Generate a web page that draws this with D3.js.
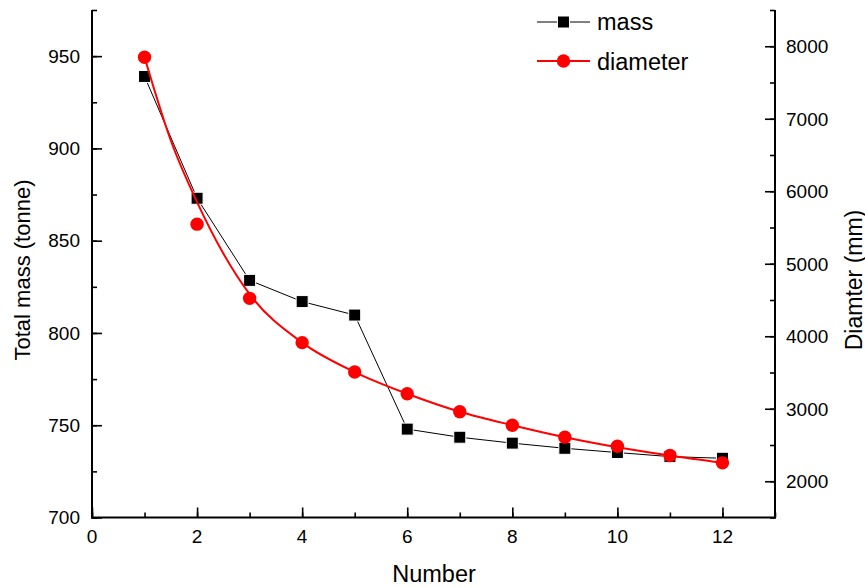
<!DOCTYPE html>
<html><head><meta charset="utf-8">
<script src="https://cdn.jsdelivr.net/npm/d3@7"></script>
<style>body{margin:0;background:#fff}svg{display:block}text{font-family:"Liberation Sans",Arial,sans-serif}</style>
</head><body><svg id="c" width="865" height="587"></svg>
<script>
const numbers = [1,2,3,4,5,6,7,8,9,10,11,12];
const mass = [939,873,828.5,817,809.7,747.9,743.5,740.3,737.5,735.2,733,732.1];
const diameter = [7848,5546,4523,3912,3506,3207,2959,2773,2608,2483,2355,2254];
const fitX = [1,1.5,2,2.5,3,4,5,6,7,8,9,10,11,12];
const fitY = [7848,6700,5850,5140,4580,3912,3506,3207,2959,2773,2608,2470,2355,2254];
const xTicks = [0,2,4,6,8,10,12];
const massTicks = [700,750,800,850,900,950];
const diaTicks = [2000,3000,4000,5000,6000,7000,8000];

const svg = d3.select("#c");
const L=92, R=775, T=10, B=517.5;
const x = d3.scaleLinear().domain([0,13]).range([L,R]);
const yL = d3.scaleLinear().domain([700,975]).range([B,T]);
const yR = d3.scaleLinear().domain([1500,8500]).range([B,T]);

function ticks(gen, tr, vals, size){
  const g = svg.append("g").attr("transform",tr);
  g.call(gen.tickValues(vals).tickSize(size).tickFormat(""));
  g.selectAll("path").remove();
  g.selectAll("text").remove();
  g.selectAll("line").attr("stroke","#000").attr("stroke-width",1.6);
  return g;
}
ticks(d3.axisTop(x), `translate(0,${B})`, d3.range(0,14,1), 5);
ticks(d3.axisRight(yL), `translate(${L},0)`, d3.range(700,976,25), 5);
ticks(d3.axisLeft(yR), `translate(${R},0)`, d3.range(1500,8501,500), 5);
ticks(d3.axisTop(x), `translate(0,${B})`, xTicks, 10);
ticks(d3.axisRight(yL), `translate(${L},0)`, massTicks, 10);
ticks(d3.axisLeft(yR), `translate(${R},0)`, diaTicks, 10);
// axis lines
svg.append("line").attr("x1",L).attr("x2",L).attr("y1",T).attr("y2",B+1).attr("stroke","#000").attr("stroke-width",2);
svg.append("line").attr("x1",R).attr("x2",R).attr("y1",T).attr("y2",B+1).attr("stroke","#000").attr("stroke-width",2);
svg.append("line").attr("x1",L-1).attr("x2",R+1).attr("y1",B).attr("y2",B).attr("stroke","#000").attr("stroke-width",2);
// labels
const fs = 19;
svg.selectAll(".xl").data(xTicks).enter().append("text").attr("x",d=>x(d)).attr("y",543).attr("text-anchor","middle").attr("font-size",fs).text(d=>d);
svg.selectAll(".yl").data(massTicks).enter().append("text").attr("x",80).attr("y",d=>yL(d)+6.8).attr("text-anchor","end").attr("font-size",fs).text(d=>d);
svg.selectAll(".yr").data(diaTicks).enter().append("text").attr("x",786).attr("y",d=>yR(d)+6.8).attr("text-anchor","start").attr("font-size",fs).text(d=>d);
svg.append("text").attr("x",434).attr("y",582).attr("text-anchor","middle").attr("font-size",23.5).text("Number");
svg.append("text").attr("transform","translate(30,270) rotate(-90)").attr("text-anchor","middle").attr("font-size",22).text("Total mass (tonne)");
svg.append("text").attr("transform","translate(861.5,280) rotate(-90)").attr("text-anchor","middle").attr("font-size",23).text("Diamter (mm)");

// mass series
svg.append("path").datum(numbers.map((n,i)=>[n,mass[i]]))
  .attr("d", d3.line().x(d=>x(d[0])).y(d=>yL(d[1])))
  .attr("fill","none").attr("stroke","#000").attr("stroke-width",1);
svg.selectAll(".sq").data(numbers.map((n,i)=>[n,mass[i]])).enter().append("rect")
  .attr("x",d=>x(d[0])-6).attr("y",d=>yL(d[1])-6).attr("width",12).attr("height",12)
  .attr("fill","#000").attr("stroke","#fff").attr("stroke-width",1);
// diameter fit curve
svg.append("path").datum(fitX.map((n,i)=>[n,fitY[i]]))
  .attr("d", d3.line().curve(d3.curveMonotoneX).x(d=>x(d[0])).y(d=>yR(d[1])))
  .attr("fill","none").attr("stroke","#ff0000").attr("stroke-width",2);
svg.selectAll(".ci").data(numbers.map((n,i)=>[n,diameter[i]])).enter().append("circle")
  .attr("cx",d=>x(d[0])).attr("cy",d=>yR(d[1])).attr("r",6.7).attr("fill","#ff0000");

// legend
const lg = svg.append("g");
lg.append("line").attr("x1",537).attr("x2",590).attr("y1",22).attr("y2",22).attr("stroke","#000").attr("stroke-width",1);
lg.append("rect").attr("x",557.5).attr("y",16).attr("width",12).attr("height",12).attr("fill","#000").attr("stroke","#fff").attr("stroke-width",1);
lg.append("text").attr("x",597).attr("y",29.5).attr("font-size",23.5).text("mass");
lg.append("line").attr("x1",537).attr("x2",590).attr("y1",61).attr("y2",61).attr("stroke","#ff0000").attr("stroke-width",2);
lg.append("circle").attr("cx",563.5).attr("cy",61).attr("r",6.7).attr("fill","#ff0000");
lg.append("text").attr("x",597).attr("y",69.5).attr("font-size",23.5).text("diameter");
</script></body></html>
